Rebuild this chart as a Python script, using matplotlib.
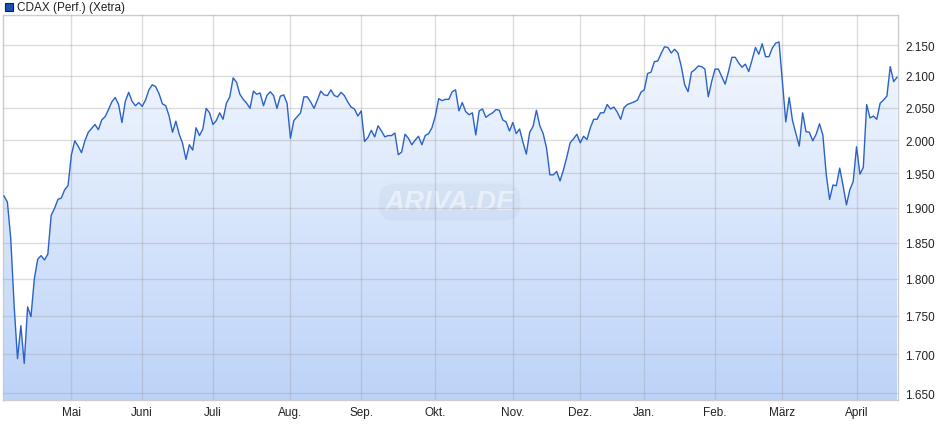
import numpy as np
import matplotlib
matplotlib.use("Agg")
import matplotlib.pyplot as plt
from matplotlib.patches import Rectangle
from matplotlib.colors import LinearSegmentedColormap
from matplotlib.ticker import FixedLocator, FuncFormatter, NullLocator

plt.rcParams['font.family'] = ['Liberation Sans', 'DejaVu Sans']

TITEL = "CDAX (Perf.) (Xetra)"
MONATE = ["Mai", "Juni", "Juli", "Aug.", "Sep.", "Okt.", "Nov.", "Dez.", "Jan.", "Feb.", "März", "April"]
# Handelstag (Index) des ersten Tages im Monat
MONATS_START = [20, 41, 62, 85, 106, 128, 151, 171, 190, 211, 231, 253]
Y_TICKS = [1650, 1700, 1750, 1800, 1850, 1900, 1950, 2000, 2050, 2100, 2150]

kurse_1 = [1917, 1908, 1856, 1764, 1694, 1737, 1688, 1762, 1749, 1800,
           1827, 1832, 1826, 1834, 1889, 1899, 1912, 1914, 1926, 1932,
           1978, 1999, 1991, 1981, 1999, 2012, 2018, 2024, 2016, 2031,
           2036, 2047, 2059, 2066, 2055, 2027, 2060, 2074, 2060, 2053,
           2058, 2052, 2062, 2078, 2086, 2083, 2072]
kurse_2 = [2056, 2053, 2037, 2012, 2029, 2009, 1995, 1971, 1993, 1985,
           2019, 2007, 2017, 2049, 2042, 2024, 2030, 2042, 2032, 2057,
           2067, 2097, 2090, 2071, 2063, 2057, 2049, 2076, 2071, 2073,
           2053, 2069, 2075, 2069, 2049, 2068, 2070, 2057, 2003, 2030,
           2036, 2042, 2067, 2067, 2059, 2049, 2062, 2076, 2070, 2069,
           2078, 2069, 2067, 2074, 2069, 2059, 2051, 2048]
kurse_3 = [2037, 2045, 1998, 2004, 2015, 2005, 2022, 2014, 2005, 2007,
           2007, 2011, 1978, 1982, 2009, 2003, 1993, 2000, 2006, 1993,
           2007, 2010, 2019, 2037, 2064, 2061, 2063, 2063, 2075, 2078,
           2045, 2058, 2044, 2039, 2042, 2008, 2045, 2048, 2035, 2039,
           2042, 2047, 2046, 2031, 2028, 2014, 2027, 2010, 2017, 1997,
           1979, 2012, 2021, 2046, 2022, 2010, 1988]
kurse_4 = [1948, 1948, 1953, 1939, 1955, 1974, 1996, 2002, 2009, 1996,
           2006, 2001, 2019, 2032, 2032, 2042, 2042, 2055, 2048, 2051,
           2043, 2032, 2050, 2055, 2057, 2059, 2062, 2074, 2078,
           2104, 2106, 2123]
kurse_5 = [2124, 2136, 2147, 2146, 2137, 2143, 2137, 2115, 2086, 2075,
           2106, 2110, 2116, 2115, 2111, 2067, 2091, 2111, 2111, 2099,
           2087, 2107, 2130, 2130, 2121, 2114, 2119, 2107, 2126, 2146,
           2135, 2152, 2131, 2131, 2145, 2153, 2155]
kurse_6 = [2091, 2028, 2066, 2030, 2010, 1991, 2042, 2013, 2012, 1999,
           2009, 2025, 2008, 1949, 1912, 1933, 1932, 1958, 1932, 1904,
           1926, 1938, 1990, 1949, 1959, 2055, 2034, 2037, 2032, 2057,
           2062, 2068, 2115, 2091, 2098]


def tausender(v, pos):
    return f"{v:,.0f}".replace(",", ".")


def main():
    kurse = np.array(kurse_1 + kurse_2 + kurse_3 + kurse_4 + kurse_5 + kurse_6, dtype=float)
    tage = np.arange(len(kurse))

    fig = plt.figure(figsize=(9.4, 4.35), dpi=100)
    ax = fig.add_axes([3 / 940, 1 - 401 / 435, 895 / 940, 385 / 435])
    ax.set_yscale("log")

    # Flaeche mit Farbverlauf unter der Linie
    poly = ax.fill_between(tage, kurse, 1000, color="none", lw=0)
    grad = np.linspace(0, 1, 256).reshape(-1, 1)
    cmap = LinearSegmentedColormap.from_list("verlauf", ["#bcd3f8", "#f7faff"])
    img = ax.imshow(grad, cmap=cmap, aspect="auto", extent=(0, 1, 0, 1),
                    transform=ax.transAxes, origin="lower", zorder=1, interpolation="bilinear")
    img.set_clip_path(poly.get_paths()[0], transform=ax.transData)

    ax.plot(tage, kurse, color="#2a62c8", lw=1.0, zorder=3)

    ax.set_xlim(-0.3, 265.3)
    ax.set_ylim(1641.6, 2199.6)

    ax.set_axisbelow(False)
    ax.grid(True, color="#a0a0a0", alpha=0.35, lw=1.0)

    ax.yaxis.tick_right()
    ax.yaxis.set_major_locator(FixedLocator(Y_TICKS))
    ax.yaxis.set_minor_locator(NullLocator())
    ax.yaxis.set_major_formatter(FuncFormatter(tausender))
    ax.set_xticks(MONATS_START, MONATE)
    ax.tick_params(axis="y", length=0, pad=5, labelsize=8.5, labelcolor="#222222")
    ax.tick_params(axis="x", length=0, pad=4, labelsize=8.5, labelcolor="#222222")
    for s in ax.spines.values():
        s.set_color("#cccccc")
        s.set_linewidth(1.0)

    # Wasserzeichen
    ax.text(0.499, 0.514, "ARIVA.DE", transform=ax.transAxes, ha="center", va="center",
            fontsize=20, style="italic", weight="bold", color="white", alpha=0.5, zorder=2,
            bbox=dict(boxstyle="round,pad=0.2,rounding_size=0.6", fc="#9aa6bb", ec="none", alpha=0.1))

    # Legende oben links
    fig.patches.append(Rectangle((5 / 940, 1 - 12 / 435), 8 / 940, 8 / 435, transform=fig.transFigure,
                                 fc="#1c50b4", ec="#0c2050", lw=0.8))
    fig.text(17 / 940, 1 - 8 / 435, TITEL, ha="left", va="center", fontsize=8.5, color="#222222")

    fig.savefig("out.png", dpi=100)


if __name__ == "__main__":
    main()
